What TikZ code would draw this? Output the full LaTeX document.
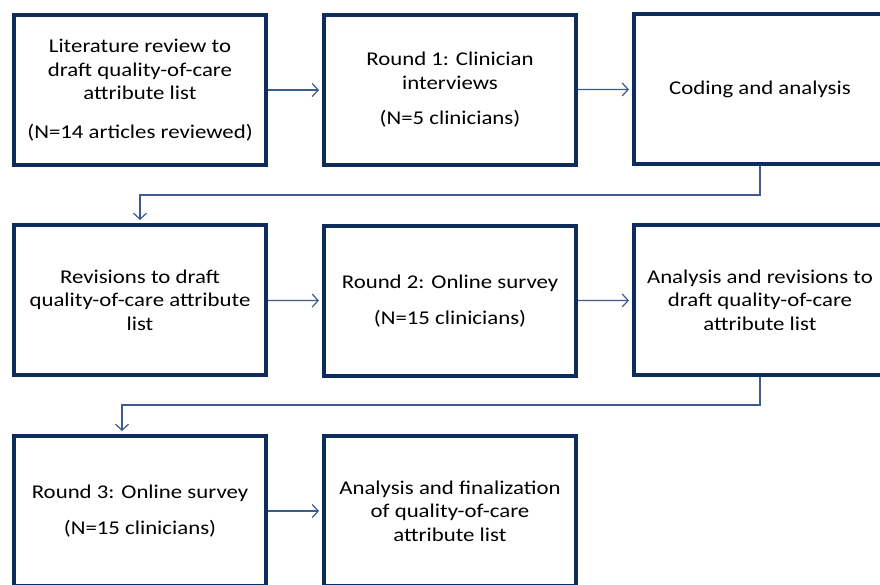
\documentclass[tikz,border=0pt]{standalone}
\usepackage{fontspec}
\setmainfont{Carlito}[FakeStretch=1.17]
\usetikzlibrary{arrows.meta}

\definecolor{boxblue}{HTML}{0E2C5C}
\definecolor{linkblue}{HTML}{3D5B8C}

\tikzset{
  stage/.style={draw=boxblue, line width=4pt, fill=white,
    minimum width=252pt, minimum height=150pt, inner sep=0pt,
    align=center, font=\fontsize{19.5}{23.5}\selectfont},
  link/.style={draw=linkblue, line width=1.2pt,
    -{Straight Barb[length=6pt,width=13pt]}, shorten >=3pt},
}

\begin{document}
\begin{tikzpicture}[x=1pt,y=-1pt]
\useasboundingbox (0,0) rectangle (880,584);
\fill[white] (0,0) rectangle (880,584);
\clip (0,0) rectangle (880,584);

% row 1
\node[stage] (lit) at (140,90) {Literature review to\\draft quality-of-care\\attribute list\\[15pt](N=14 articles reviewed)};
\node[stage] (round1) at (450,90) {Round 1: Clinician\\interviews\\[12pt](N=5 clinicians)};
\node[stage] (coding) at (760,89) {Coding and analysis};

% row 2
\node[stage] (revise) at (140,300) {Revisions to draft\\quality-of-care attribute\\list};
\node[stage] (round2) at (450,301) {Round 2: Online survey\\[13pt](N=15 clinicians)};
\node[stage] (analysis) at (760,300) {Analysis and revisions to\\draft quality-of-care\\attribute list};

% row 3
\node[stage] (round3) at (140,511) {Round 3: Online survey\\[13pt](N=15 clinicians)};
\node[stage] (final) at (450,511) {Analysis and finalization\\of quality-of-care\\attribute list};

% turning points of the return lines
\coordinate (turnA) at (140,195);
\coordinate (turnB) at (122,405);

\draw[link] (lit) -- (round1);
\draw[link] (round1) -- (coding);
\draw[link] (coding.south) |- (turnA) -- (revise.north -| turnA);
\draw[link] (revise) -- (round2);
\draw[link] (round2) -- (analysis);
\draw[link] (analysis.south) |- (turnB) -- (round3.north -| turnB);
\draw[link] (round3) -- (final);
\end{tikzpicture}
\end{document}
